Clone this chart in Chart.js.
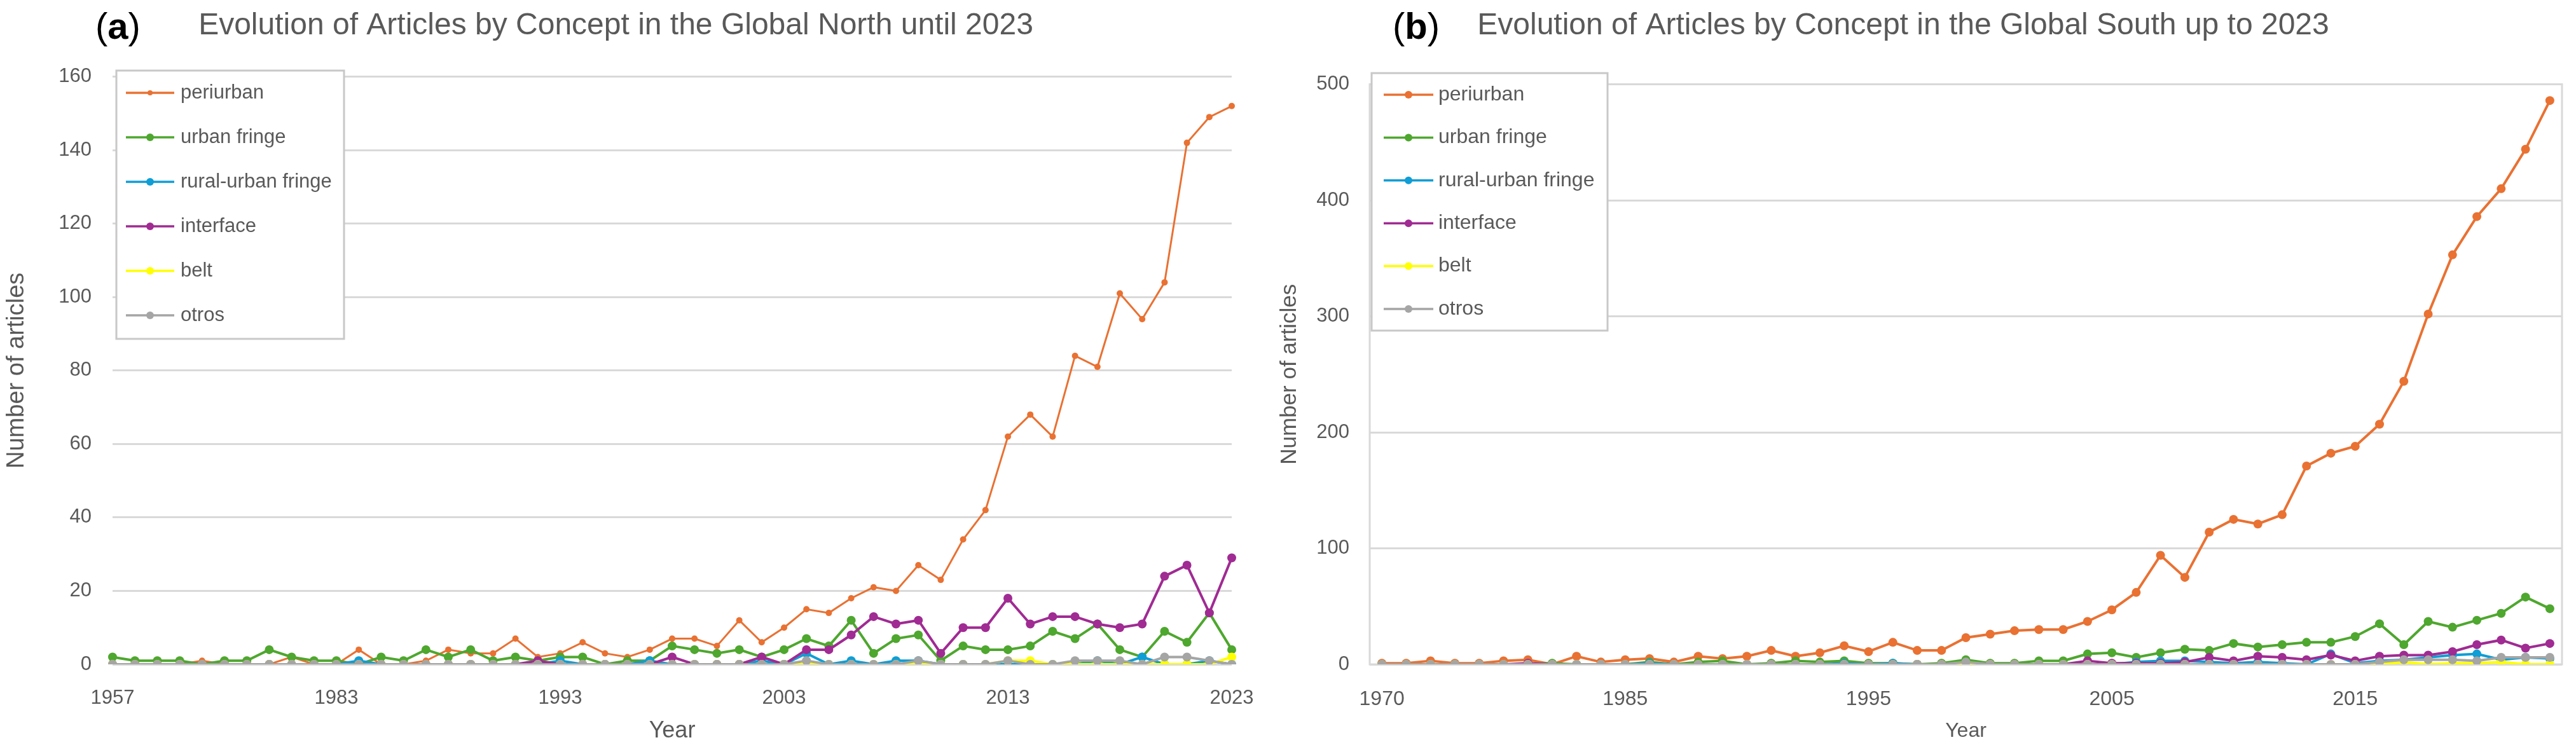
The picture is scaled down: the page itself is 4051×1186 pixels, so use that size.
<!DOCTYPE html>
<html>
<head>
<meta charset="utf-8">
<script src="https://cdn.jsdelivr.net/npm/chart.js@4.4.1/dist/chart.umd.min.js"></script>
<style>
    html, body { margin: 0; padding: 0; background: #fff; }
    body { width: 4051px; height: 1186px; position: relative; overflow: hidden; }
    .panel { position: absolute; top: 0; height: 1186px; }
    #panelNorth { left: 0; width: 2000px; }
    #panelSouth { left: 1957px; width: 2094px; }
    .tag { position: absolute; top: 12px; font: 58px/1 'Liberation Sans', Arial, sans-serif; color: #000; }
    .tag b { font-weight: bold; }
</style>
</head>
<body>
<div class="panel" id="panelNorth"><canvas id="northChart"></canvas></div>
<div class="panel" id="panelSouth"><canvas id="southChart"></canvas></div>
<div class="tag" style="left:150px">(<b>a</b>)</div>
<div class="tag" style="left:2190px">(<b>b</b>)</div>

<script>
// 시리즈 이름 (범례 순서)
const seriesNames = ['periurban', 'urban fringe', 'rural-urban fringe', 'interface', 'belt', 'otros'];
const seriesColors = ['#E97132', '#4EA72E', '#0F9ED5', '#A02B93', '#FFFF00', '#A5A5A5'];

// (a) Global North - categories
const yearsNorth = [
    1957, 1960, 1964, 1967, 1970, 1972, 1975, 1977, 1979, 1981,
    1983, 1984, 1985, 1986, 1987, 1988, 1989, 1990, 1991, 1992,
    1993, 1994, 1995, 1996, 1997, 1998, 1999, 2000, 2001, 2002,
    2003, 2004, 2005, 2006, 2007, 2008, 2009, 2010, 2011, 2012,
    2013, 2014, 2015, 2016, 2017, 2018, 2019, 2020, 2021, 2022, 2023,
];
const northTickYears = [1957, 1983, 1993, 2003, 2013, 2023];

const periurbanNorth = [0, 0, 0, 0, 1, 0, 0, 0, 2, 0, 0, 4, 0, 0, 1, 4, 3, 3, 7, 2, 3, 6, 3, 2, 4, 7, 7, 5, 12, 6, 10, 15, 14, 18, 21, 20, 27, 23, 34, 42, 62, 68, 62, 84, 81, 101, 94, 104, 142, 149, 152];
const urbanFringeNorth = [2, 1, 1, 1, 0, 1, 1, 4, 2, 1, 1, 0, 2, 1, 4, 2, 4, 1, 2, 1, 2, 2, 0, 1, 1, 5, 4, 3, 4, 2, 4, 7, 5, 12, 3, 7, 8, 1, 5, 4, 4, 5, 9, 7, 11, 4, 2, 9, 6, 14, 4];
const ruralUrbanNorth = [0, 0, 0, 0, 0, 0, 0, 0, 0, 0, 0, 1, 0, 0, 0, 0, 0, 0, 0, 0, 1, 0, 0, 0, 1, 0, 0, 0, 0, 1, 0, 3, 0, 1, 0, 1, 1, 0, 0, 0, 0, 0, 0, 0, 1, 0, 2, 0, 0, 1, 0];
const interfaceNorth = [0, 0, 0, 0, 0, 0, 0, 0, 0, 0, 0, 0, 0, 0, 0, 0, 0, 0, 0, 1, 0, 0, 0, 0, 0, 2, 0, 0, 0, 2, 0, 4, 4, 8, 13, 11, 12, 3, 10, 10, 18, 11, 13, 13, 11, 10, 11, 24, 27, 14, 29];
const beltNorth = [0, 0, 0, 0, 0, 0, 0, 0, 0, 0, 0, 0, 0, 0, 0, 0, 0, 0, 0, 0, 0, 0, 0, 0, 0, 0, 0, 0, 0, 0, 0, 0, 0, 0, 0, 0, 0, 0, 0, 0, 1, 1, 0, 0, 0, 0, 0, 0, 0, 0, 2];
const otrosNorth = [0, 0, 0, 0, 0, 0, 0, 0, 0, 0, 0, 0, 0, 0, 0, 0, 0, 0, 0, 0, 0, 0, 0, 0, 0, 0, 0, 0, 0, 0, 0, 1, 0, 0, 0, 0, 1, 0, 0, 0, 1, 0, 0, 1, 1, 1, 0, 2, 2, 1, 0];

// (b) Global South - categories
const yearsSouth = [
    1970, 1972, 1974, 1976, 1977, 1978, 1980, 1981, 1982, 1984,
    1985, 1986, 1987, 1988, 1989, 1990, 1991, 1992, 1993, 1994,
    1995, 1996, 1997, 1998, 1999, 2000, 2001, 2002, 2003, 2004,
    2005, 2006, 2007, 2008, 2009, 2010, 2011, 2012, 2013, 2014,
    2015, 2016, 2017, 2018, 2019, 2020, 2021, 2022, 2023,
];
const southTickYears = [1970, 1985, 1995, 2005, 2015];

const periurbanSouth = [1, 1, 3, 1, 1, 3, 4, 0, 7, 2, 4, 5, 2, 7, 5, 7, 12, 7, 10, 16, 11, 19, 12, 12, 23, 26, 29, 30, 30, 37, 47, 62, 94, 75, 114, 125, 121, 129, 171, 182, 188, 207, 244, 302, 353, 386, 410, 444, 486];
const urbanFringeSouth = [0, 0, 0, 0, 0, 0, 0, 1, 0, 0, 0, 2, 0, 2, 3, 0, 1, 3, 2, 3, 1, 1, 0, 1, 4, 1, 1, 3, 3, 9, 10, 6, 10, 13, 12, 18, 15, 17, 19, 19, 24, 35, 17, 37, 32, 38, 44, 58, 48];
const ruralUrbanSouth = [0, 0, 0, 0, 0, 0, 0, 0, 0, 0, 0, 1, 0, 0, 0, 0, 0, 0, 0, 1, 0, 1, 0, 0, 1, 0, 0, 0, 0, 0, 0, 2, 3, 3, 2, 1, 2, 1, 0, 9, 1, 3, 4, 6, 8, 9, 4, 6, 5];
const interfaceSouth = [0, 0, 0, 0, 0, 0, 1, 0, 0, 0, 0, 0, 0, 0, 0, 0, 0, 0, 0, 0, 0, 0, 0, 0, 1, 0, 0, 0, 0, 3, 1, 1, 1, 2, 6, 3, 7, 6, 4, 8, 3, 7, 8, 8, 11, 17, 21, 14, 18];
const beltSouth = [0, 0, 0, 0, 0, 0, 0, 0, 0, 0, 0, 0, 0, 0, 0, 0, 0, 0, 0, 0, 0, 0, 0, 0, 0, 0, 0, 0, 0, 0, 0, 0, 0, 0, 0, 0, 0, 0, 0, 0, 0, 0, 2, 0, 1, 1, 2, 0, 0];
const otrosSouth = [0, 0, 0, 0, 0, 0, 0, 0, 0, 0, 0, 0, 0, 0, 0, 0, 0, 0, 0, 0, 0, 0, 0, 0, 2, 0, 0, 0, 0, 0, 0, 0, 0, 0, 0, 0, 0, 0, 0, 0, 0, 2, 4, 4, 4, 3, 6, 6, 6];

const FONT = "'Liberation Sans', Arial, sans-serif";
const TEXT_GRAY = '#595959';
const GRID_GRAY = '#d9d9d9';

// 범례 박스 (엑셀 스타일: 테두리 + 선/마커 기호)
const boxLegend = {
    id: 'boxLegend',
    afterDraw(chart, args, opts) {
        const ctx = chart.ctx;
        ctx.save();
        ctx.fillStyle = '#ffffff';
        ctx.fillRect(opts.left, opts.top, opts.width, opts.height);
        ctx.strokeStyle = '#c8c8c8';
        ctx.lineWidth = 3;
        ctx.strokeRect(opts.left, opts.top, opts.width, opts.height);
        ctx.font = `${opts.fontSize}px ${FONT}`;
        ctx.textBaseline = 'middle';
        ctx.textAlign = 'left';
        chart.data.datasets.forEach((ds, i) => {
            const y = opts.firstRow + i * opts.rowGap;
            ctx.strokeStyle = ds.borderColor;
            ctx.lineWidth = 3.5;
            ctx.beginPath();
            ctx.moveTo(opts.lineStart, y);
            ctx.lineTo(opts.lineEnd, y);
            ctx.stroke();
            ctx.fillStyle = ds.borderColor;
            ctx.beginPath();
            ctx.arc((opts.lineStart + opts.lineEnd) / 2, y, i === 0 ? opts.markerSmall : opts.marker, 0, Math.PI * 2);
            ctx.fill();
            ctx.fillStyle = TEXT_GRAY;
            ctx.fillText(ds.label, opts.textX, y);
        });
        ctx.restore();
    },
};

// 플롯 영역 테두리 (b 패널)
const plotFrame = {
    id: 'plotFrame',
    beforeDatasetsDraw(chart, args, opts) {
        if (!opts.display) return;
        const { left, top, width, height } = chart.chartArea;
        const ctx = chart.ctx;
        ctx.save();
        ctx.strokeStyle = GRID_GRAY;
        ctx.lineWidth = 3;
        ctx.strokeRect(left, top, width, height);
        ctx.restore();
    },
};

function buildDatasets(seriesValues, lineWidths, radii) {
    return seriesValues.map((values, i) => ({
        label: seriesNames[i],
        data: values,
        borderColor: seriesColors[i],
        backgroundColor: seriesColors[i],
        pointBackgroundColor: seriesColors[i],
        pointBorderWidth: 0,
        pointRadius: radii[i],
        borderWidth: lineWidths[i],
        tension: 0,
        order: seriesNames.length - i, // 엑셀처럼 마지막 시리즈가 위에 그려짐
    }));
}

function makeChart(canvasId, cfg) {
    const ctx = document.getElementById(canvasId).getContext('2d');
    return new Chart(ctx, {
        type: 'line',
        data: {
            labels: cfg.years,
            datasets: buildDatasets(cfg.series, cfg.lineWidths, cfg.radii),
        },
        plugins: [boxLegend, plotFrame],
        options: {
            responsive: true,
            maintainAspectRatio: false,
            animation: false,
            layout: { padding: { left: 0, right: cfg.padRight, top: 0, bottom: 0 } },
            plugins: {
                legend: { display: false },
                tooltip: { enabled: false },
                title: {
                    display: true,
                    text: cfg.title,
                    color: TEXT_GRAY,
                    font: { family: FONT, size: 48, weight: 'normal' },
                    padding: { top: 12, bottom: cfg.titlePadBottom },
                },
                boxLegend: cfg.legend,
                plotFrame: { display: cfg.frame },
            },
            scales: {
                x: {
                    type: 'category',
                    offset: cfg.offset,
                    grid: { display: false },
                    border: { display: false },
                    ticks: {
                        autoSkip: false,
                        maxRotation: 0,
                        minRotation: 0,
                        padding: cfg.xTickPad,
                        color: TEXT_GRAY,
                        font: { family: FONT, size: cfg.xTickSize },
                        callback: function (value) {
                            const year = this.getLabelForValue(value);
                            return cfg.tickYears.includes(year) ? String(year) : '';
                        },
                    },
                    title: {
                        display: true,
                        text: 'Year',
                        color: TEXT_GRAY,
                        font: { family: FONT, size: cfg.yearSize },
                        padding: { top: 0, bottom: cfg.yearPadBottom },
                    },
                    afterFit: (scale) => { scale.height = 141; },
                },
                y: {
                    min: 0,
                    max: cfg.yMax,
                    ticks: {
                        stepSize: cfg.yStep,
                        padding: cfg.yTickPad,
                        color: TEXT_GRAY,
                        font: { family: FONT, size: 31 },
                    },
                    grid: { color: GRID_GRAY, lineWidth: 3, drawTicks: false },
                    border: { display: false },
                    title: {
                        display: true,
                        text: 'Number of articles',
                        color: TEXT_GRAY,
                        font: { family: FONT, size: cfg.yTitleSize },
                        padding: { top: cfg.yTitlePadTop, bottom: 0 },
                    },
                    afterFit: (scale) => { scale.width = cfg.yAxisWidth; },
                },
            },
        },
    });
}

document.addEventListener('DOMContentLoaded', () => {
    // (a) Global North
    makeChart('northChart', {
        years: yearsNorth,
        tickYears: northTickYears,
        series: [periurbanNorth, urbanFringeNorth, ruralUrbanNorth, interfaceNorth, beltNorth, otrosNorth],
        lineWidths: [3, 4, 4, 4, 4, 4],
        radii: [5, 7, 7, 7, 7, 7],
        title: 'Evolution of Articles by Concept in the Global North until 2023',
        titlePadBottom: 51,
        padRight: 63,
        offset: false,
        frame: false,
        yMax: 160,
        yStep: 20,
        yAxisWidth: 177,
        yTickPad: 33,
        yTitleSize: 38,
        yTitlePadTop: 4,
        xTickPad: 27,
        xTickSize: 31,
        yearSize: 36,
        yearPadBottom: 14,
        legend: {
            left: 183, top: 111, width: 358, height: 422,
            firstRow: 146, rowGap: 70,
            lineStart: 198, lineEnd: 274, textX: 284,
            marker: 6, markerSmall: 4, fontSize: 31,
        },
    });

    // (b) Global South
    makeChart('southChart', {
        years: yearsSouth,
        tickYears: southTickYears,
        series: [periurbanSouth, urbanFringeSouth, ruralUrbanSouth, interfaceSouth, beltSouth, otrosSouth],
        lineWidths: [4, 4, 4, 4, 4, 4],
        radii: [7, 7, 7, 7, 7, 7],
        title: 'Evolution of Articles by Concept in the Global South up to 2023',
        titlePadBottom: 63,
        padRight: 22,
        offset: true,
        frame: true,
        yMax: 500,
        yStep: 100,
        yAxisWidth: 197,
        yTickPad: 32,
        yTitleSize: 35,
        yTitlePadTop: 50,
        xTickPad: 28,
        xTickSize: 32,
        yearSize: 32,
        yearPadBottom: 17,
        legend: {
            left: 200, top: 115, width: 371, height: 405,
            firstRow: 149, rowGap: 67.4,
            lineStart: 219, lineEnd: 297, textX: 305,
            marker: 6, markerSmall: 6, fontSize: 32,
        },
    });
});
</script>
</body>
</html>
